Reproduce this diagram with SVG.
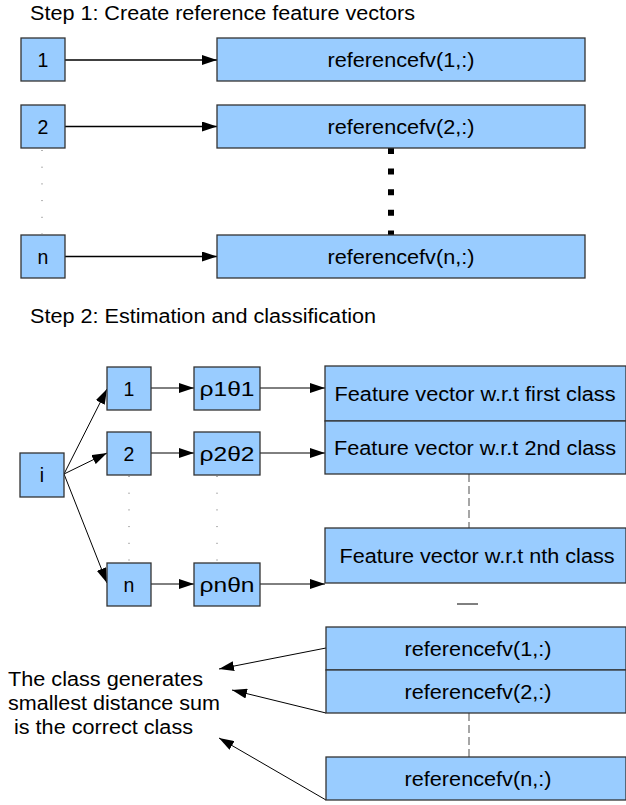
<svg xmlns="http://www.w3.org/2000/svg" width="626" height="805" viewBox="0 0 626 805">
<style>
text{font-family:"Liberation Sans",Arial,sans-serif;font-size:19.5px;fill:#000}
.c{text-anchor:middle}
.box{fill:#99ccff;stroke:#333;stroke-width:1.3}
.ar{stroke:#000;stroke-width:1.4;fill:none;marker-end:url(#ah)}
.ar2{stroke:#000;stroke-width:1;fill:none;marker-end:url(#ah)}
.dots{stroke:#666;stroke-width:1;stroke-dasharray:1 15.7;fill:none}
.dash{stroke:#777;stroke-width:1.3;stroke-dasharray:8 4;fill:none}
</style>
<defs>
<marker id="ah" viewBox="0 0 15 10" refX="15" refY="5" markerWidth="15" markerHeight="10" markerUnits="userSpaceOnUse" orient="auto">
<path d="M0,0 L15,5 L0,10 z" fill="#000"/>
</marker>
</defs>
<text x="30" y="20" textLength="385" lengthAdjust="spacingAndGlyphs">Step 1: Create reference feature vectors</text>
<text x="30" y="323" textLength="346" lengthAdjust="spacingAndGlyphs">Step 2: Estimation and classification</text>
<g id="connectors">
<line class="ar" x1="65" y1="60" x2="217" y2="60"/>
<line class="ar" x1="65" y1="126.5" x2="217" y2="126.5"/>
<line class="ar" x1="65" y1="256.5" x2="217" y2="256.5"/>
<line class="dots" x1="42" y1="150" x2="42" y2="234"/>
<line x1="391" y1="148" x2="391" y2="235" stroke="#000" stroke-width="6" stroke-dasharray="6 14.6"/>
<line class="ar2" x1="64" y1="474" x2="107" y2="389"/>
<line class="ar2" x1="64" y1="474" x2="107" y2="453"/>
<line class="ar2" x1="64" y1="474" x2="107" y2="583"/>
<line class="ar2" x1="151" y1="388" x2="194" y2="388"/>
<line class="ar2" x1="151" y1="453" x2="194" y2="453"/>
<line class="ar2" x1="151" y1="584" x2="194" y2="584"/>
<line class="ar2" x1="260" y1="388" x2="325" y2="388"/>
<line class="ar2" x1="260" y1="453" x2="325" y2="453"/>
<line class="ar2" x1="260" y1="584" x2="325" y2="584"/>
<line class="dots" x1="129" y1="476" x2="129" y2="562"/>
<line class="dots" x1="217" y1="476" x2="217" y2="562"/>
<line class="dash" x1="469" y1="474" x2="469" y2="528"/>
<line x1="457" y1="604" x2="478" y2="604" stroke="#000" stroke-width="1"/>
<line class="dash" x1="469" y1="713" x2="469" y2="757"/>
<line class="ar2" x1="326" y1="648" x2="219" y2="669"/>
<line class="ar2" x1="326" y1="713" x2="232" y2="690"/>
<line class="ar2" x1="326" y1="800" x2="219" y2="738"/>
</g>
<g id="s1n1"><rect class="box" x="21" y="38" width="44" height="43"/><text class="c" x="43" y="66.5">1</text></g>
<g id="s1n2"><rect class="box" x="21" y="105" width="44" height="43"/><text class="c" x="43" y="133.5">2</text></g>
<g id="s1nn"><rect class="box" x="21" y="235" width="44" height="43"/><text class="c" x="43" y="263.5">n</text></g>
<g id="s1r1"><rect class="box" x="217" y="38" width="368" height="43"/><text class="c" x="401" y="66.5" textLength="147" lengthAdjust="spacingAndGlyphs">referencefv(1,:)</text></g>
<g id="s1r2"><rect class="box" x="217" y="105" width="368" height="43"/><text class="c" x="401" y="133.5" textLength="147" lengthAdjust="spacingAndGlyphs">referencefv(2,:)</text></g>
<g id="s1rn"><rect class="box" x="217" y="235" width="368" height="43"/><text class="c" x="401" y="263.5" textLength="147" lengthAdjust="spacingAndGlyphs">referencefv(n,:)</text></g>
<g id="ni"><rect class="box" x="20" y="453" width="44" height="44"/><text class="c" x="42" y="482">i</text></g>
<g id="n1"><rect class="box" x="107" y="367" width="44" height="43"/><text class="c" x="129" y="395.5">1</text></g>
<g id="n2"><rect class="box" x="107" y="432" width="44" height="43"/><text class="c" x="129" y="460.5">2</text></g>
<g id="nn"><rect class="box" x="107" y="563" width="44" height="43"/><text class="c" x="129" y="591.5">n</text></g>
<g id="p1"><rect class="box" x="194" y="367" width="66" height="43"/><text class="c" x="227" y="395.5" textLength="55" lengthAdjust="spacingAndGlyphs">ρ1θ1</text></g>
<g id="p2"><rect class="box" x="194" y="432" width="66" height="43"/><text class="c" x="227" y="460.5" textLength="55" lengthAdjust="spacingAndGlyphs">ρ2θ2</text></g>
<g id="pn"><rect class="box" x="194" y="563" width="66" height="43"/><text class="c" x="227" y="591.5" textLength="55" lengthAdjust="spacingAndGlyphs">ρnθn</text></g>
<g id="f1"><rect class="box" x="325" y="366" width="301" height="55"/><text class="c" x="475" y="400.5" textLength="281" lengthAdjust="spacingAndGlyphs">Feature vector w.r.t first class</text></g>
<g id="f2"><rect class="box" x="325" y="421" width="301" height="53"/><text class="c" x="475" y="454.5" textLength="282" lengthAdjust="spacingAndGlyphs">Feature vector w.r.t 2nd class</text></g>
<g id="fn"><rect class="box" x="325" y="528" width="301" height="55"/><text class="c" x="477" y="562.5" textLength="275" lengthAdjust="spacingAndGlyphs">Feature vector w.r.t nth class</text></g>
<g id="r1"><rect class="box" x="326" y="627" width="300" height="43"/><text class="c" x="478" y="655.5" textLength="147" lengthAdjust="spacingAndGlyphs">referencefv(1,:)</text></g>
<g id="r2"><rect class="box" x="326" y="670" width="300" height="43"/><text class="c" x="478" y="698.5" textLength="147" lengthAdjust="spacingAndGlyphs">referencefv(2,:)</text></g>
<g id="rn"><rect class="box" x="326" y="757" width="300" height="43"/><text class="c" x="478" y="785.5" textLength="147" lengthAdjust="spacingAndGlyphs">referencefv(n,:)</text></g>
<g id="result">
<text x="8" y="685.5" textLength="195" lengthAdjust="spacingAndGlyphs">The class generates</text>
<text x="8" y="709.5" textLength="212" lengthAdjust="spacingAndGlyphs">smallest distance sum</text>
<text x="14" y="733.5" textLength="179" lengthAdjust="spacingAndGlyphs">is the correct class</text>
</g>
</svg>
